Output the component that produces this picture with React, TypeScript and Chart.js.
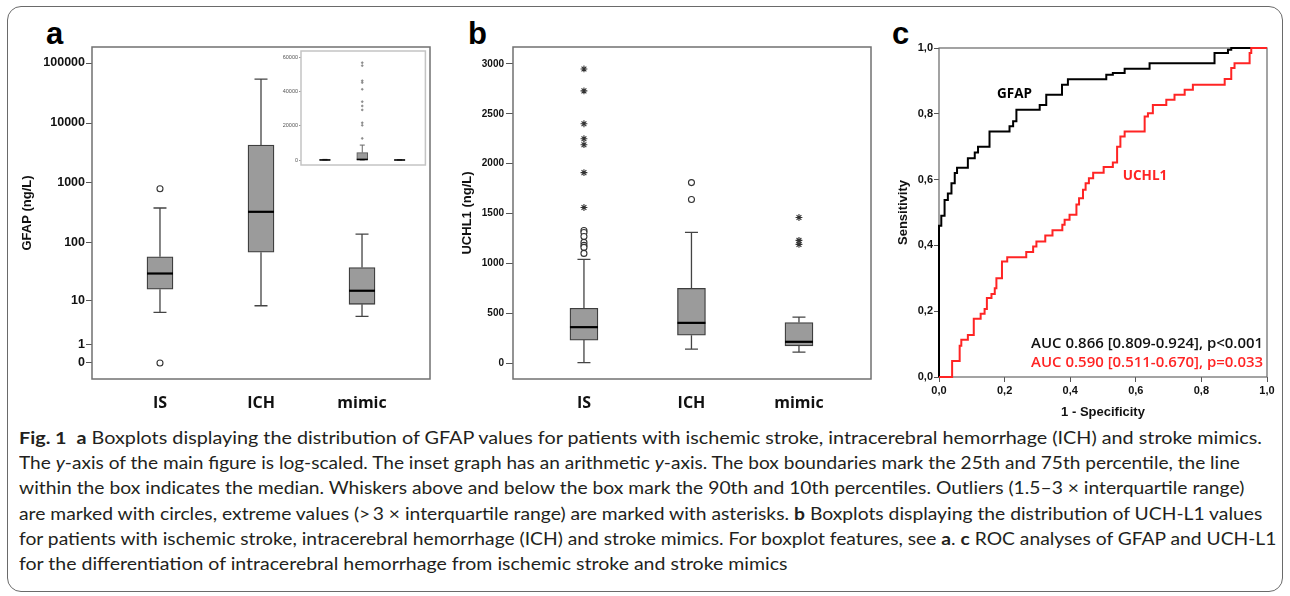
import React, { useEffect, useLayoutEffect, useRef } from 'react';
import { Chart, registerables } from 'chart.js';

Chart.register(...registerables);

// ---------------- data ----------------
const categories = ['IS', 'ICH', 'mimic'];

// Panel a: GFAP (ng/L), main plot (log-scaled axis)
const gfapTickValues = [0, 1, 10, 100, 1000, 10000, 100000];
const gfapWhiskerLow = [6, 8, 5];
const gfapQ1 = [16, 69, 8.5];
const gfapMedian = [30, 330, 15];
const gfapQ3 = [58, 4300, 38];
const gfapWhiskerHigh = [382, 54000, 140];
const gfapCirclesIS = [0, 800];

// Panel a inset (arithmetic axis)
const insetTickValues = [0, 20000, 40000, 60000];
const insetWhiskerHigh = [382, 8700, 140];
const insetPointsICH = [56700, 55000, 46200, 45100, 41200, 34000, 31500, 29200, 21700, 20200, 12600];

// Panel b: UCHL1 (ng/L)
const uchlTickValues = [0, 500, 1000, 1500, 2000, 2500, 3000];
const uchlWhiskerLow = [5, 140, 110];
const uchlQ1 = [230, 280, 173];
const uchlMedian = [360, 403, 213];
const uchlQ3 = [550, 750, 407];
const uchlWhiskerHigh = [1040, 1310, 460];
const uchlCirclesIS = [1330, 1310, 1270, 1210, 1180, 1160, 1100];
const uchlStarsIS = [2950, 2730, 2400, 2250, 2190, 1910, 1560];
const uchlCirclesICH = [1810, 1640];
const uchlStarsMimic = [1460, 1230, 1190];

// Panel c: ROC curves
const rocTickValues = [0, 0.2, 0.4, 0.6, 0.8, 1.0];
const gfapFpr = [0, 0, 0.007, 0.017, 0.027, 0.038, 0.048, 0.055, 0.088, 0.109, 0.119, 0.154, 0.215, 0.226, 0.236, 0.307, 0.327, 0.375, 0.393, 0.51, 0.53, 0.566, 0.642, 0.84, 0.881, 0.891, 1];
const gfapTpr = [0, 0.46, 0.49, 0.538, 0.558, 0.589, 0.62, 0.636, 0.665, 0.682, 0.7, 0.746, 0.762, 0.777, 0.812, 0.827, 0.858, 0.888, 0.905, 0.919, 0.924, 0.937, 0.954, 0.985, 0.995, 1.0, 1.0];
const uchlFpr = [0, 0.04, 0.063, 0.068, 0.088, 0.106, 0.127, 0.139, 0.146, 0.16, 0.17, 0.175, 0.192, 0.208, 0.266, 0.287, 0.297, 0.324, 0.346, 0.376, 0.383, 0.398, 0.419, 0.427, 0.439, 0.447, 0.457, 0.47, 0.502, 0.53, 0.543, 0.553, 0.566, 0.627, 0.637, 0.652, 0.693, 0.718, 0.749, 0.774, 0.871, 0.891, 0.901, 0.947, 0.952, 1];
const uchlTpr = [0, 0.049, 0.095, 0.113, 0.128, 0.177, 0.192, 0.207, 0.24, 0.252, 0.27, 0.3, 0.351, 0.364, 0.38, 0.397, 0.412, 0.43, 0.446, 0.463, 0.478, 0.493, 0.524, 0.543, 0.569, 0.589, 0.604, 0.621, 0.638, 0.652, 0.7, 0.731, 0.746, 0.792, 0.802, 0.827, 0.843, 0.858, 0.873, 0.888, 0.906, 0.939, 0.954, 0.985, 1.0, 1.0];
const gfapAucText = 'AUC 0.866 [0.809-0.924], p<0.001';
const uchlAucText = 'AUC 0.590 [0.511-0.670], p=0.033';

// ---------------- styling helpers ----------------
const ARIAL = '"Liberation Sans", Arial, sans-serif';
const OPEN = '"Open Sans", sans-serif';
const BOX_FILL = '#9b9b9b';
const BOX_EDGE = '#3e3e3e';
const RED = '#ff2424';

const logT = (v: number) => Math.log10(v + 1);
const idT = (v: number) => v;

function boxPartsPlugin(c: any) {
  return {
    id: 'boxParts',
    afterDatasetsDraw(chart: any) {
      const { ctx, scales } = chart;
      const xs = scales.x;
      const ys = scales.y;
      ctx.save();
      for (let i = 0; i < c.q1.length; i++) {
        const px = xs.getPixelForValue(i);
        const yLow = ys.getPixelForValue(c.tf(c.low[i]));
        const yQ1 = ys.getPixelForValue(c.tf(c.q1[i]));
        const yQ3 = ys.getPixelForValue(c.tf(c.q3[i]));
        const yHigh = ys.getPixelForValue(c.tf(c.high[i]));
        const yMed = ys.getPixelForValue(c.tf(c.med[i]));
        ctx.strokeStyle = c.lineColor;
        ctx.lineWidth = c.lineWidth;
        ctx.beginPath();
        ctx.moveTo(px, yQ3);
        ctx.lineTo(px, yHigh);
        ctx.moveTo(px - c.capPx / 2, yHigh);
        ctx.lineTo(px + c.capPx / 2, yHigh);
        ctx.moveTo(px, yQ1);
        ctx.lineTo(px, yLow);
        ctx.moveTo(px - c.capPx / 2, yLow);
        ctx.lineTo(px + c.capPx / 2, yLow);
        ctx.stroke();
        ctx.strokeStyle = '#000';
        ctx.lineWidth = c.medianWidth;
        ctx.beginPath();
        ctx.moveTo(px - c.boxPx / 2, yMed);
        ctx.lineTo(px + c.boxPx / 2, yMed);
        ctx.stroke();
      }
      ctx.restore();
    },
  };
}

function framePlugin(color: string, width: number, before: boolean) {
  const draw = (chart: any) => {
    const { ctx, chartArea: a } = chart;
    ctx.save();
    ctx.strokeStyle = color;
    ctx.lineWidth = width;
    ctx.strokeRect(a.left, a.top, a.right - a.left, a.bottom - a.top);
    ctx.restore();
  };
  return before
    ? { id: 'frame', beforeDatasetsDraw: draw }
    : { id: 'frame', afterDraw: draw };
}

function valueAxis(o: any) {
  return {
    type: 'linear',
    position: 'left',
    bounds: 'data',
    min: o.min,
    max: o.max,
    afterBuildTicks: (s: any) => {
      s.ticks = o.ticks.map((v: number) => ({ value: o.tf(v) }));
    },
    afterFit: (s: any) => {
      s.width = o.width;
      s.paddingTop = 0;
      s.paddingBottom = 0;
    },
    grid: { display: true, drawOnChartArea: false, drawTicks: true, tickLength: o.tickLen, color: o.tickColor || '#555', lineWidth: 1 },
    border: { display: false },
    ticks: {
      autoSkip: false,
      callback: (_v: any, i: number) => o.fmt(o.ticks[i]),
      font: { family: ARIAL, size: o.fontPx, weight: o.weight || 'bold' },
      color: o.color || '#111',
      padding: o.pad,
    },
    title: o.title
      ? { display: true, text: o.title, color: '#111', font: { family: ARIAL, size: 13, weight: 'bold' }, padding: { top: o.titlePad, bottom: 0 } }
      : { display: false },
  };
}

function categoryAxis(min: number, max: number, height: number, pad: number) {
  return {
    type: 'linear',
    position: 'bottom',
    bounds: 'data',
    offset: false,
    min,
    max,
    afterBuildTicks: (s: any) => {
      s.ticks = categories.map((_c, i) => ({ value: i }));
    },
    afterFit: (s: any) => {
      s.height = height;
      s.paddingLeft = 0;
      s.paddingRight = 0;
    },
    grid: { display: false, drawTicks: false },
    border: { display: false },
    ticks: {
      autoSkip: false,
      maxRotation: 0,
      callback: (v: number) => categories[Math.round(v)],
      font: { family: OPEN, size: 16, weight: 'bold' },
      color: '#111',
      padding: pad,
    },
  };
}

const circleStyle = { pointStyle: 'circle', pointRadius: 3, pointBorderColor: '#333', pointBackgroundColor: '#fff', pointBorderWidth: 1.1 };
const starStyle = { pointStyle: 'star', pointRadius: 3.4, pointBorderColor: '#333', pointBackgroundColor: '#333', pointBorderWidth: 1.1 };
const baseOptions = {
  animation: false,
  responsive: false,
  events: [],
  plugins: { legend: { display: false }, tooltip: { enabled: false } },
};

const captionEnds = [1262, 1240, 1244, 1262, 1276, 788];

export default function App() {
  const refA = useRef<HTMLCanvasElement>(null);
  const refInset = useRef<HTMLCanvasElement>(null);
  const refB = useRef<HTMLCanvasElement>(null);
  const refC = useRef<HTMLCanvasElement>(null);
  const capRef = useRef<HTMLDivElement>(null);

  useLayoutEffect(() => {
    const fit = () => {
      const els = capRef.current ? capRef.current.querySelectorAll('[data-w]') : [];
      els.forEach((el: any) => {
        const w = el.offsetWidth;
        const t = Number(el.dataset.w);
        if (w > 0) el.style.transform = `scaleX(${t / w})`;
      });
    };
    fit();
    if ((document as any).fonts) (document as any).fonts.ready.then(fit);
  }, []);

  useEffect(() => {
    const charts: Chart[] = [];

    // ----- panel a main -----
    charts.push(
      new Chart(refA.current as any, {
        type: 'bar',
        data: {
          datasets: [
            {
              type: 'bar',
              data: categories.map((_c, i) => ({ x: i, y: [logT(gfapQ1[i]), logT(gfapQ3[i])] })),
              backgroundColor: BOX_FILL,
              borderColor: BOX_EDGE,
              borderWidth: 1.3,
              borderSkipped: false,
              barThickness: 26,
            } as any,
            { type: 'scatter', data: gfapCirclesIS.map((v) => ({ x: 0, y: logT(v) })), ...circleStyle } as any,
          ],
        },
        options: {
          ...baseOptions,
          layout: { padding: { left: 0, right: 10, top: 7, bottom: 0 } },
          scales: {
            x: categoryAxis(-0.673, 2.673, 41, 15),
            y: valueAxis({ min: -0.267, max: 5.267, ticks: gfapTickValues, tf: logT, fmt: (v: number) => String(v), width: 78, tickLen: 6, pad: 1, fontPx: 12.5, title: 'GFAP (ng/L)', titlePad: 6 }),
          },
        } as any,
        plugins: [
          boxPartsPlugin({ low: gfapWhiskerLow, q1: gfapQ1, med: gfapMedian, q3: gfapQ3, high: gfapWhiskerHigh, tf: logT, capPx: 13, boxPx: 26, lineColor: '#444', lineWidth: 1.3, medianWidth: 2.2 }),
          framePlugin('#707070', 1.5, false),
        ],
      })
    );

    // ----- panel a inset -----
    charts.push(
      new Chart(refInset.current as any, {
        type: 'bar',
        data: {
          datasets: [
            {
              type: 'bar',
              data: categories.map((_c, i) => ({ x: i, y: [gfapQ1[i], gfapQ3[i]] })),
              backgroundColor: BOX_FILL,
              borderColor: '#555',
              borderWidth: 1,
              borderSkipped: false,
              barThickness: 11,
            } as any,
            {
              type: 'scatter',
              data: insetPointsICH.map((v) => ({ x: 1, y: v })),
              pointStyle: 'circle',
              pointRadius: 0.9,
              pointBorderColor: '#777',
              pointBackgroundColor: '#999',
              pointBorderWidth: 0.6,
            } as any,
          ],
        },
        options: {
          ...baseOptions,
          layout: { padding: { left: 0, right: 4, top: 5, bottom: 5 } },
          scales: {
            x: { type: 'linear', display: false, bounds: 'data', offset: false, min: -0.64, max: 2.69 },
            y: valueAxis({ min: -2900, max: 63500, ticks: insetTickValues, tf: idT, fmt: (v: number) => String(v), width: 23, tickLen: 2, pad: 1, fontPx: 5.5, weight: 'normal', color: '#555', tickColor: '#999' }),
          },
        } as any,
        plugins: [
          boxPartsPlugin({ low: gfapWhiskerLow, q1: gfapQ1, med: gfapMedian, q3: gfapQ3, high: insetWhiskerHigh, tf: idT, capPx: 5, boxPx: 11, lineColor: '#666', lineWidth: 1, medianWidth: 1.6 }),
          framePlugin('#c4c4c4', 1.5, false),
        ],
      })
    );

    // ----- panel b -----
    charts.push(
      new Chart(refB.current as any, {
        type: 'bar',
        data: {
          datasets: [
            {
              type: 'bar',
              data: categories.map((_c, i) => ({ x: i, y: [uchlQ1[i], uchlQ3[i]] })),
              backgroundColor: BOX_FILL,
              borderColor: BOX_EDGE,
              borderWidth: 1.3,
              borderSkipped: false,
              barThickness: 28,
            } as any,
            { type: 'scatter', data: uchlCirclesIS.map((v) => ({ x: 0, y: v })), ...circleStyle } as any,
            { type: 'scatter', data: uchlStarsIS.map((v) => ({ x: 0, y: v })), ...starStyle } as any,
            { type: 'scatter', data: uchlCirclesICH.map((v) => ({ x: 1, y: v })), ...circleStyle } as any,
            { type: 'scatter', data: uchlStarsMimic.map((v) => ({ x: 2, y: v })), ...starStyle } as any,
          ],
        },
        options: {
          ...baseOptions,
          layout: { padding: { left: 0, right: 14, top: 7, bottom: 0 } },
          scales: {
            x: categoryAxis(-0.66, 2.67, 41, 15),
            y: valueAxis({ min: -160, max: 3170, ticks: uchlTickValues, tf: idT, fmt: (v: number) => String(v), width: 58, tickLen: 7, pad: 2, fontPx: 10, title: 'UCHL1 (ng/L)', titlePad: 5 }),
          },
        } as any,
        plugins: [
          boxPartsPlugin({ low: uchlWhiskerLow, q1: uchlQ1, med: uchlMedian, q3: uchlQ3, high: uchlWhiskerHigh, tf: idT, capPx: 13, boxPx: 28, lineColor: '#444', lineWidth: 1.3, medianWidth: 2.2 }),
          framePlugin('#707070', 1.5, false),
        ],
      })
    );

    // ----- panel c -----
    const comma = (v: number) => v.toFixed(1).replace('.', ',');
    const rocText = {
      id: 'rocText',
      afterDraw(chart: any) {
        const { ctx, scales } = chart;
        const X = (v: number) => scales.x.getPixelForValue(v);
        const Y = (v: number) => scales.y.getPixelForValue(v);
        ctx.save();
        ctx.textBaseline = 'middle';
        ctx.font = `bold 13.5px ${OPEN}`;
        ctx.textAlign = 'center';
        ctx.fillStyle = '#000';
        ctx.fillText('GFAP', X(0.23), Y(0.86));
        ctx.fillStyle = RED;
        ctx.fillText('UCHL1', X(0.628), Y(0.611));
        ctx.font = `600 15px ${OPEN}`;
        ctx.textAlign = 'right';
        ctx.fillStyle = '#111';
        ctx.fillText(gfapAucText, X(0.988), Y(0.1), 232);
        ctx.fillStyle = RED;
        ctx.fillText(uchlAucText, X(0.988), Y(0.0426), 232);
        ctx.restore();
      },
    };
    const rocAxis = (title: string, horizontal: boolean) => ({
      type: 'linear',
      position: horizontal ? 'bottom' : 'left',
      bounds: 'data',
      min: 0,
      max: 1,
      afterBuildTicks: (s: any) => {
        s.ticks = rocTickValues.map((v) => ({ value: v }));
      },
      afterFit: (s: any) => {
        if (horizontal) {
          s.height = 48;
          s.paddingLeft = 0;
          s.paddingRight = 0;
        } else {
          s.width = 51;
          s.paddingTop = 0;
          s.paddingBottom = 0;
        }
      },
      grid: { display: true, drawOnChartArea: false, drawTicks: true, tickLength: 5, color: '#555' },
      border: { display: false },
      ticks: { autoSkip: false, maxRotation: 0, callback: (v: number) => comma(v), font: { family: ARIAL, size: 11, weight: 'bold' }, color: '#111', padding: horizontal ? 2.4 : 1 },
      title: { display: true, text: title, color: '#111', font: { family: ARIAL, size: 13, weight: 'bold' }, padding: horizontal ? { top: 0, bottom: 5.2 } : { top: 7.2, bottom: 0 } },
    });
    charts.push(
      new Chart(refC.current as any, {
        type: 'scatter',
        data: {
          datasets: [
            {
              data: uchlFpr.map((x, i) => ({ x, y: uchlTpr[i] })),
              showLine: true,
              stepped: 'before',
              borderColor: RED,
              borderWidth: 2,
              pointRadius: 0,
              clip: 4,
            } as any,
            {
              data: gfapFpr.map((x, i) => ({ x, y: gfapTpr[i] })),
              showLine: true,
              stepped: 'before',
              borderColor: '#000',
              borderWidth: 2,
              pointRadius: 0,
              clip: 4,
            } as any,
          ],
        },
        options: {
          ...baseOptions,
          layout: { padding: { left: 0, right: 15, top: 8, bottom: 0 } },
          scales: { x: rocAxis('1 - Specificity', true), y: rocAxis('Sensitivity', false) },
        } as any,
        plugins: [framePlugin('#666', 1.2, true), rocText],
      })
    );

    return () => charts.forEach((c) => c.destroy());
  }, []);

  const letter = (ch: string, left: number) => (
    <div style={{ position: 'absolute', left, top: 18, font: `bold 31px ${ARIAL}`, lineHeight: 1, color: '#000' }}>{ch}</div>
  );

  const capLine = (i: number, content: React.ReactNode) => (
    <div style={{ position: 'absolute', left: 19, top: 425 + i * 25.2, whiteSpace: 'nowrap' }}>
      <span data-w={captionEnds[i] - 19} style={{ display: 'inline-block', transformOrigin: 'left center' }}>
        {content}
      </span>
    </div>
  );

  return (
    <div style={{ position: 'absolute', left: 0, top: 0, width: 1290, height: 596, background: '#fff', overflow: 'hidden' }}>
      <div style={{ position: 'absolute', left: 7, top: 6, width: 1276, height: 586, boxSizing: 'border-box', border: '1.5px solid #6a6a6a', borderRadius: 14 }} />
      {letter('a', 46)}
      {letter('b', 468)}
      {letter('c', 892)}
      <canvas ref={refA} width={426} height={380} style={{ position: 'absolute', left: 14, top: 40 }} />
      <canvas ref={refInset} width={152} height={124} style={{ position: 'absolute', left: 278, top: 46 }} />
      <canvas ref={refB} width={430} height={380} style={{ position: 'absolute', left: 455, top: 40 }} />
      <canvas ref={refC} width={394} height={385} style={{ position: 'absolute', left: 888, top: 40 }} />
      <div ref={capRef} style={{ fontFamily: 'Lato, "Open Sans", sans-serif', fontSize: 17, lineHeight: '25px', color: '#231f20' }}>
        {capLine(0, <><b>Fig. 1</b>{'\u2002'}<b>a</b> Boxplots displaying the distribution of GFAP values for patients with ischemic stroke, intracerebral hemorrhage (ICH) and stroke mimics.</>)}
        {capLine(1, <>The <i>y</i>-axis of the main figure is log-scaled. The inset graph has an arithmetic <i>y</i>-axis. The box boundaries mark the 25th and 75th percentile, the line</>)}
        {capLine(2, <>within the box indicates the median. Whiskers above and below the box mark the 90th and 10th percentiles. Outliers (1.5–3 × interquartile range)</>)}
        {capLine(3, <>are marked with circles, extreme values (&gt;{'\u2009'}3 × interquartile range) are marked with asterisks. <b>b</b> Boxplots displaying the distribution of UCH-L1 values</>)}
        {capLine(4, <>for patients with ischemic stroke, intracerebral hemorrhage (ICH) and stroke mimics. For boxplot features, see <b>a</b>. <b>c</b> ROC analyses of GFAP and UCH-L1</>)}
        {capLine(5, <>for the differentiation of intracerebral hemorrhage from ischemic stroke and stroke mimics</>)}
      </div>
    </div>
  );
}
